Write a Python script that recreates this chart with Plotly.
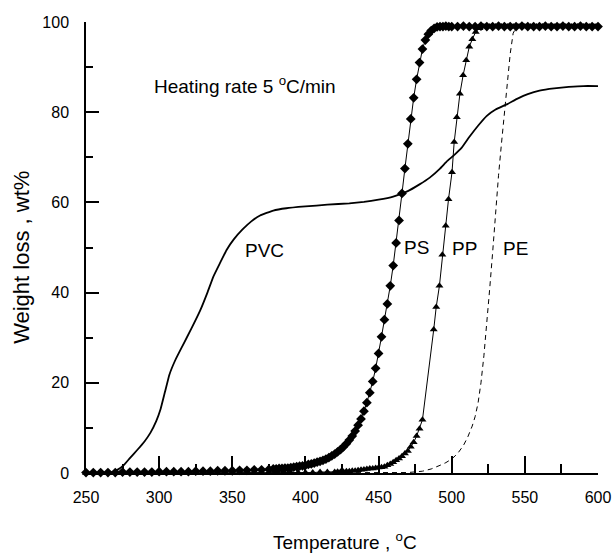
import plotly.graph_objects as go

# ---------------- data ----------------
pvc_T = [250, 260, 268, 272, 276, 280, 285, 290, 294, 298, 301, 304, 307, 311, 316, 322,
         328, 333, 337, 342, 346, 351, 357, 363, 369, 378, 387, 400, 415, 430, 440, 450,
         460, 470, 478, 485, 492, 497, 502, 507, 512, 518, 524, 530, 538, 545, 552, 560,
         570, 580, 590, 600]
pvc_W = [0.0, 0.0, 0.2, 0.8, 1.8, 3.3, 5.1, 7.0, 8.9, 11.5, 14.2, 18.0, 21.8, 25.0, 28.2, 32.0,
         36.0, 40.0, 43.5, 46.8, 49.4, 51.8, 54.0, 55.8, 57.1, 58.2, 58.7, 59.1, 59.5, 59.8, 60.1, 60.6,
         61.3, 62.5, 64.0, 65.5, 67.5, 69.2, 70.6, 72.2, 74.5, 77.0, 79.2, 80.6, 81.8, 83.0, 84.0, 84.8,
         85.3, 85.6, 85.8, 85.8]

ps_T = [250, 255, 260, 265, 270, 275, 280, 285, 290, 295, 300, 305, 310, 315, 320, 325, 330,
        335, 340, 345, 350, 355, 360, 365, 370, 375,
        378, 380, 382, 384, 386, 388, 390, 392, 394, 396, 398, 400, 402, 404, 406, 408, 410,
        412, 414, 416, 418, 420, 422, 424, 426, 428, 430, 432, 434, 436, 438, 440, 442, 444,
        446, 448, 450, 452, 454, 456, 458, 460, 462, 464, 466, 468, 470, 472, 474, 476, 478,
        480, 482, 484, 486, 488, 490, 492, 494, 496, 498, 500,
        504, 508, 512, 516, 520, 524, 528, 532, 536, 540, 544, 548, 552, 556, 560, 564, 568,
        572, 576, 580, 584, 588, 592, 596, 600]
ps_W = [0.1, 0.1, 0.1, 0.1, 0.1, 0.2, 0.2, 0.2, 0.2, 0.2, 0.3, 0.3, 0.3, 0.3, 0.3, 0.4, 0.4,
        0.4, 0.5, 0.5, 0.5, 0.6, 0.6, 0.7, 0.7, 0.8,
        0.9, 0.9, 1.0, 1.0, 1.1, 1.1, 1.2, 1.3, 1.4, 1.5, 1.6, 1.7, 1.9, 2.0, 2.2, 2.4, 2.6,
        2.8, 3.1, 3.4, 3.8, 4.2, 4.7, 5.2, 5.8, 6.5, 7.3, 8.2, 9.3, 10.6, 12.0, 13.7, 15.6, 17.8,
        20.3, 23.2, 26.5, 30.2, 34.0, 37.5, 41.5, 46.0, 51.0, 56.0, 62.0, 67.5, 73.0, 78.5, 83.2, 87.3, 91.0,
        94.0, 96.0, 97.3, 98.1, 98.6, 98.9, 99.0, 99.0, 99.1, 99.0, 99.0,
        99.0, 99.1, 99.0, 99.0, 99.1, 99.0, 99.0, 99.1, 99.0, 99.0, 99.0, 99.1, 99.0, 99.0, 99.0, 99.1, 99.0,
        99.0, 99.1, 99.0, 99.0, 99.1, 99.0, 99.0, 99.0]

pp_T = [250, 255, 260, 265, 270, 275, 280, 285, 290, 295, 300, 305, 310, 315, 320, 325, 330,
        335, 340, 345, 350, 355, 360, 365, 370, 375, 380, 385, 390, 395, 400, 405, 410, 415, 420,
        422, 424, 426, 428, 430, 432, 434, 436, 438, 440, 442, 444, 446, 448, 450, 452, 454,
        456, 458, 460, 462, 464, 466, 468, 470, 472, 474, 476, 478, 480,
        487.7, 489.4, 491.6, 493.6, 495.9, 497.8, 500.2, 501.7, 503.5, 505.6, 507.8, 509.9,
        512.0, 514.1, 516.4, 519, 522,
        526, 530, 534, 538, 542, 546, 550, 554, 558, 562, 566, 570, 574, 578, 582, 586, 590, 594, 598]
pp_W = [0.0, 0.0, 0.0, 0.0, 0.0, 0.0, 0.0, 0.0, 0.0, 0.0, 0.0, 0.0, 0.0, 0.0, 0.0, 0.0, 0.0,
        0.0, 0.0, 0.0, 0.0, 0.0, 0.0, 0.0, 0.1, 0.1, 0.1, 0.1, 0.1, 0.1, 0.1, 0.1, 0.2, 0.2, 0.2,
        0.3, 0.3, 0.3, 0.4, 0.4, 0.5, 0.5, 0.6, 0.7, 0.8, 0.9, 1.0, 1.0, 1.1, 1.2, 1.3, 1.4,
        1.7, 2.0, 2.4, 2.8, 3.2, 3.7, 4.3, 4.9, 5.8, 6.8, 8.2, 9.8, 11.8,
        31.8, 36.8, 41.5, 48.4, 54.8, 60.7, 66.7, 73.4, 78.9, 84.1, 88.2, 91.5,
        94.5, 96.2, 97.8, 98.6, 99.0,
        99.0, 99.0, 99.0, 99.0, 99.0, 99.0, 99.0, 99.0, 99.0, 99.0, 99.0, 99.0, 99.0, 99.0, 99.0, 99.0, 99.0, 99.0, 99.0]

pe_T = [250, 300, 350, 400, 430, 450, 460, 470, 480, 486, 492, 496, 500, 504, 508, 511, 514,
        516, 518, 520, 522, 524, 526, 528, 530, 532, 534, 536, 538, 540, 542, 544, 548, 560, 580, 600]
pe_W = [0.0, 0.0, 0.0, 0.0, 0.0, 0.0, 0.05, 0.1, 0.4, 0.9, 1.7, 2.3, 3.1, 4.3, 6.1, 8.0, 10.4,
        12.5, 15.5, 20.0, 26.0, 33.0, 41.0, 49.0, 58.0, 66.0, 73.0, 80.0, 87.0, 93.0, 97.5, 98.8, 99.0, 99.0, 99.0, 99.0]

labels = ["PVC", "PS", "PP", "PE"]
label_T = [372, 476, 508.5, 543.5]
label_W = [49.4, 50.0, 49.8, 49.8]

x_ticks = [250, 300, 350, 400, 450, 500, 550, 600]
y_ticks = [0, 20, 40, 60, 80, 100]

FONT = "Liberation Sans, Arial, sans-serif"

fig = go.Figure()
fig.add_trace(go.Scatter(x=pe_T, y=pe_W, mode="lines", cliponaxis=False,
                         line=dict(color="black", width=1, dash="5px,4px"), showlegend=False))
fig.add_trace(go.Scatter(x=pvc_T, y=pvc_W, mode="lines", cliponaxis=False,
                         line=dict(color="black", width=1.8, shape="spline", smoothing=0.3),
                         showlegend=False))
fig.add_trace(go.Scatter(x=pp_T, y=pp_W, mode="lines+markers", cliponaxis=False,
                         line=dict(color="black", width=1),
                         marker=dict(symbol="triangle-up", size=7, color="black"),
                         showlegend=False))
fig.add_trace(go.Scatter(x=ps_T, y=ps_W, mode="lines+markers", cliponaxis=False,
                         line=dict(color="black", width=1),
                         marker=dict(symbol="diamond", size=7.5, color="black"),
                         showlegend=False))

for txt, tx, ty in zip(labels, label_T, label_W):
    fig.add_annotation(x=tx, y=ty, text=txt, showarrow=False,
                       font=dict(family=FONT, size=19, color="black"),
                       xanchor="center", yanchor="middle")

fig.add_annotation(x=295, y=86, text="Heating rate 5 <sup>o</sup>C/min", showarrow=False,
                   font=dict(family=FONT, size=19, color="black"),
                   xanchor="left", yanchor="middle")

# axis titles
fig.add_annotation(xref="paper", yref="paper", x=0.506, y=-0.151,
                   text="Temperature , <sup>o</sup>C", showarrow=False,
                   font=dict(family=FONT, size=19, color="black"),
                   xanchor="center", yanchor="middle")
fig.add_annotation(xref="paper", yref="paper", x=-0.125, y=0.477,
                   text="Weight loss , wt%", showarrow=False, textangle=-90,
                   font=dict(family=FONT, size=22, color="black"),
                   xanchor="center", yanchor="middle")

fig.update_xaxes(range=[250, 600], tickvals=x_ticks, ticktext=[str(v) for v in x_ticks],
                 showline=True, linecolor="black", linewidth=1.5, automargin=False,
                 ticks="inside", ticklen=17, tickwidth=1.5, tickcolor="black",
                 minor=dict(ticks="inside", ticklen=9, tickwidth=1.5, tickcolor="black",
                            tickvals=[275, 325, 375, 425, 475, 525, 575]),
                 showgrid=False, zeroline=False,
                 tickfont=dict(family=FONT, size=16, color="black"),
                 ticklabelstandoff=9)
fig.update_yaxes(range=[0, 100], tickvals=y_ticks, ticktext=[str(v) for v in y_ticks],
                 showline=True, linecolor="black", linewidth=1.5, automargin=False,
                 ticks="inside", ticklen=13, tickwidth=1.5, tickcolor="black",
                 minor=dict(ticks="inside", ticklen=7, tickwidth=1.5, tickcolor="black",
                            tickvals=[10, 30, 50, 70, 90]),
                 showgrid=False, zeroline=False,
                 tickfont=dict(family=FONT, size=16, color="black"),
                 ticklabelstandoff=12)

fig.update_layout(width=613, height=554,
                  margin=dict(l=86, r=15, t=22, b=81, pad=0, autoexpand=False),
                  paper_bgcolor="white", plot_bgcolor="white",
                  font=dict(family=FONT, color="black"))

fig.write_html("out.html", config={"displayModeBar": False},
               post_script="document.body.style.margin='0';document.body.style.padding='0';")
